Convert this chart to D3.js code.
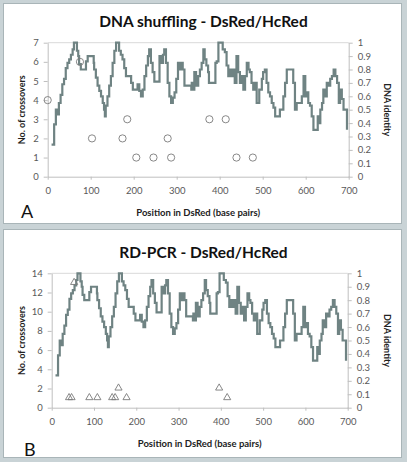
<!DOCTYPE html>
<html><head><meta charset="utf-8">
<script src="https://cdn.jsdelivr.net/npm/d3@7"></script>
<style>
html,body{margin:0;padding:0;background:#c9d3d6;}
svg{display:block;}
</style></head>
<body>
<script>
// ---- data ----
const identityPos = [9,15,19,23,26,30,34,38,42,46,50,54,58,61,65,68,71,73,77,86,89,93,104,107,108,112,116,120,124,128,131,133,135,139,143,147,151,155,159,163,166,170,174,178,182,190,194,198,205,209,213,217,221,225,229,233,236,240,244,248,258,260,264,268,271,275,279,283,287,291,295,299,303,306,310,314,318,334,335,338,341,345,346,350,354,358,362,365,369,373,375,389,390,393,397,404,407,412,416,420,424,428,431,435,439,443,447,451,455,459,463,467,470,474,478,482,486,490,492,498,501,505,509,513,517,521,525,529,540,544,548,552,556,568,571,575,579,587,591,595,599,603,606,610,614,618,626,628,630,634,638,641,645,649,653,657,661,665,669,673,677,680,684,688,692,696];
const identityVal = [0.24,0.39,0.50,0.465,0.55,0.61,0.69,0.73,0.81,0.85,0.875,0.91,0.95,1.0,1.0,0.94,0.90,0.84,0.80,0.80,0.86,0.90,0.90,0.85,0.80,0.74,0.68,0.64,0.60,0.55,0.50,0.45,0.53,0.60,0.68,0.75,0.85,0.94,1.0,1.0,0.94,0.91,0.875,0.81,0.75,0.75,0.70,0.65,0.65,0.69,0.64,0.60,0.65,0.75,0.83,0.90,0.95,0.85,0.78,0.71,0.71,0.90,0.85,0.91,0.95,0.85,0.70,0.60,0.55,0.59,0.63,0.73,0.85,0.80,0.85,0.80,0.68,0.65,0.70,0.65,0.78,0.68,0.68,0.75,0.80,0.85,0.95,0.875,0.83,0.78,0.70,0.70,0.85,0.86,1.0,1.0,0.95,0.93,0.83,0.75,0.80,0.75,0.80,0.70,0.90,0.78,0.70,0.75,0.65,0.75,0.85,0.80,0.78,0.70,0.65,0.70,0.55,0.55,0.65,0.73,0.78,0.80,0.70,0.63,0.60,0.55,0.515,0.45,0.50,0.50,0.60,0.70,0.80,0.80,0.70,0.50,0.55,0.55,0.60,0.75,0.60,0.63,0.55,0.53,0.45,0.35,0.35,0.45,0.40,0.50,0.55,0.65,0.60,0.70,0.68,0.73,0.75,0.80,0.75,0.70,0.55,0.65,0.58,0.50,0.50,0.35];

const shufflePos = [0,75,103,174,185,206,246,279,287,376,414,439,477];
const shuffleCount = [4,6,2,2,3,1,1,2,1,3,3,1,1];

const rdPos = [41,47,53,89,108,143,150,158,177,396,415];
const rdCount = [1,1,13,1,1,1,1,2,1,2,1];

const xTicks = [0,100,200,300,400,500,600,700];
const idTicks = [0,0.1,0.2,0.3,0.4,0.5,0.6,0.7,0.8,0.9,1];
const titles = ["DNA shuffling - DsRed/HcRed","RD-PCR - DsRed/HcRed"];
const panelLetters = ["A","B"];
const xTitle = "Position in DsRed (base pairs)";
const yLeftTitle = "No. of crossovers";
const yRightTitle = "DNA identity";

// ---- drawing ----
const W = 407, H = 462;
const svg = d3.select("body").append("svg").attr("width", W).attr("height", H);
const FONT = "Lato, 'Open Sans', sans-serif";
const lineColor = "#6f8383";

const identity = identityPos.map((p,i)=>({p, v: identityVal[i]}));

const panels = [
  {box:[3,3,399,221], x0:47.7, x1:348.7, yT:42.7, yB:176.7, yMax:7, yStep:1,
   title: titles[0], titleY:27, xTitleY:215.5, letter: panelLetters[0], letterX:21, letterY:218,
   pts: shufflePos.map((p,i)=>({p, c: shuffleCount[i]})), marker:"circle"},
  {box:[3,229,399,229], x0:51.7, x1:347.7, yT:273.3, yB:407.7, yMax:14, yStep:2,
   title: titles[1], titleY:257.5, xTitleY:446.5, letter: panelLetters[1], letterX:24, letterY:455.5,
   pts: rdPos.map((p,i)=>({p, c: rdCount[i]})), marker:"triangle"}
];

panels.forEach(P => {
  const g = svg.append("g");
  g.append("rect").attr("x",P.box[0]+0.5).attr("y",P.box[1]+0.5)
    .attr("width",P.box[2]-1).attr("height",P.box[3]-1)
    .attr("fill","#fff").attr("stroke","#a9b5b8");

  const x = d3.scaleLinear().domain([0,700]).range([P.x0,P.x1]);
  const yL = d3.scaleLinear().domain([0,P.yMax]).range([P.yB,P.yT]);
  const yR = d3.scaleLinear().domain([0,1]).range([P.yB,P.yT]);

  g.append("line").attr("x1",P.x0).attr("x2",P.x1).attr("y1",P.yT).attr("y2",P.yT)
    .attr("stroke","#d9d9d9");

  const styleAxis = (sel) => {
    sel.selectAll("path.domain").attr("stroke","#bfbfbf");
    sel.selectAll(".tick line").attr("stroke","#bfbfbf");
    sel.selectAll(".tick text").attr("fill","#595959").style("font-family",FONT).style("font-size","9.5px");
  };

  const yLTicks = d3.range(0,P.yMax+0.001,P.yStep);
  g.append("g").attr("transform",`translate(${P.x0},0)`)
    .call(d3.axisLeft(yL).tickValues(yLTicks).tickSize(4).tickSizeOuter(0).tickPadding(5).tickFormat(d3.format("d")))
    .call(styleAxis);
  g.append("g").attr("transform",`translate(${P.x1},0)`)
    .call(d3.axisRight(yR).tickValues(idTicks).tickSize(4).tickSizeOuter(0).tickPadding(5).tickFormat(d=> d===0?"0":d===1?"1":d3.format(".1f")(d)))
    .call(styleAxis);
  g.append("g").attr("transform",`translate(0,${P.yB})`)
    .call(d3.axisBottom(x).tickValues(xTicks).tickSize(3).tickSizeOuter(0).tickPadding(8).tickFormat(d3.format("d")))
    .call(styleAxis);

  g.append("path").datum(identity)
    .attr("fill","none").attr("stroke",lineColor).attr("stroke-width",2.2)
    .attr("stroke-linejoin","miter")
    .attr("d", d3.line().x(d=>x(d.p)).y(d=>yR(d.v)).curve(d3.curveStepAfter));

  if (P.marker === "circle") {
    g.selectAll("circle.m").data(P.pts).join("circle").attr("class","m")
      .attr("cx",d=>x(d.p)).attr("cy",d=>yL(d.c)).attr("r",3.6)
      .attr("fill","none").attr("stroke","#7a7a7a").attr("stroke-width",0.9);
  } else {
    const sym = d3.symbol().type(d3.symbolTriangle).size(22);
    g.selectAll("path.m").data(P.pts).join("path").attr("class","m")
      .attr("transform",d=>`translate(${x(d.p)},${yL(d.c)-0.5})`)
      .attr("d",sym).attr("fill","none").attr("stroke","#7a7a7a").attr("stroke-width",0.9);
  }

  g.append("text").attr("x",203.5).attr("y",P.titleY).attr("text-anchor","middle")
    .style("font-family",FONT).style("font-weight","bold").style("font-size","15.5px").attr("fill","#111")
    .text(P.title);
  g.append("text").attr("x",(P.x0+P.x1)/2).attr("y",P.xTitleY).attr("text-anchor","middle")
    .style("font-family",FONT).style("font-weight","bold").style("font-size","9.5px").attr("fill","#222")
    .text(xTitle);
  const cy = (P.yT+P.yB)/2;
  g.append("text").attr("transform",`translate(25,${cy}) rotate(-90)`).attr("text-anchor","middle")
    .style("font-family",FONT).style("font-weight","bold").style("font-size","9px").attr("fill","#222")
    .text(yLeftTitle);
  g.append("text").attr("transform",`translate(384,${cy}) rotate(90)`).attr("text-anchor","middle")
    .style("font-family",FONT).style("font-weight","bold").style("font-size","9px").attr("fill","#222")
    .text(yRightTitle);
  g.append("text").attr("x",P.letterX).attr("y",P.letterY)
    .style("font-family",FONT).style("font-size","18px").attr("fill","#111")
    .text(P.letter);
});
</script>
</body></html>
